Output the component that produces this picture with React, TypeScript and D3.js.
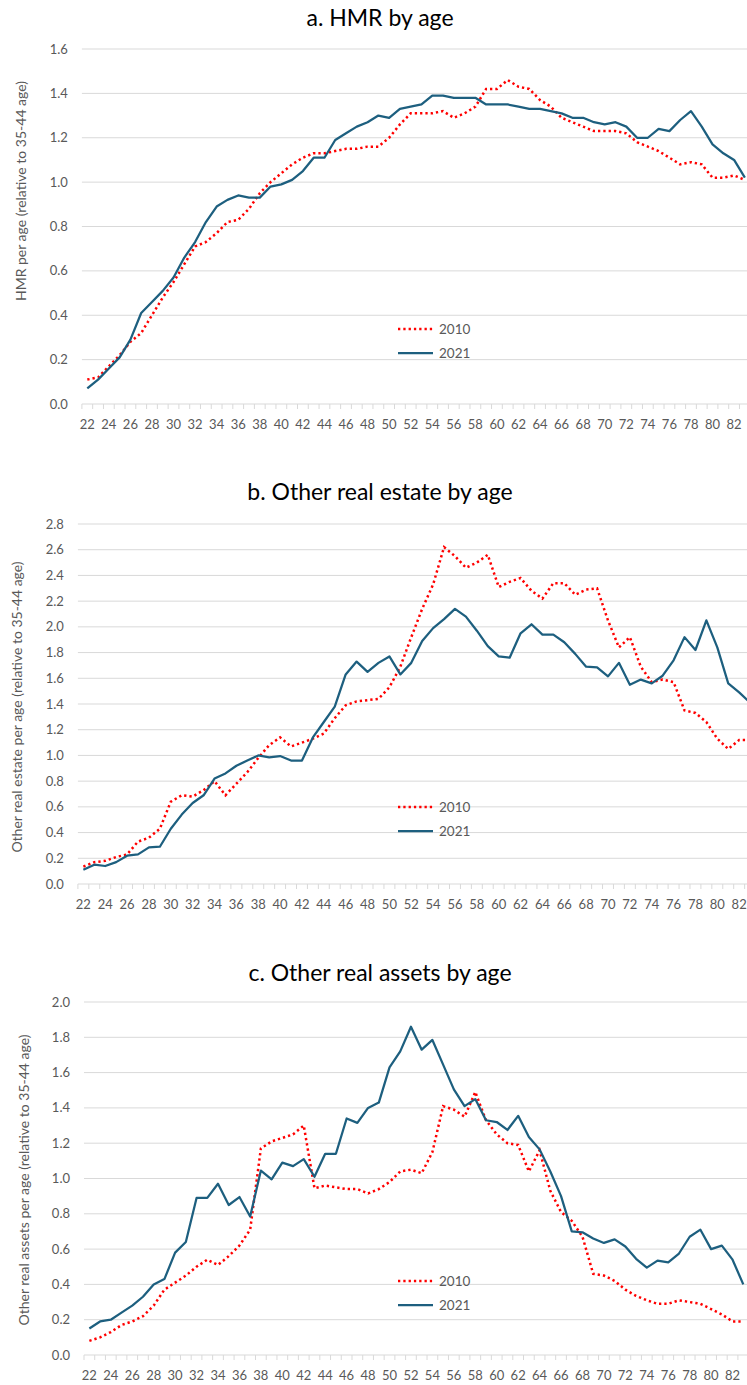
import { useEffect, useRef } from 'react'
import * as d3 from 'd3'

const ages = [
  22, 23, 24, 25, 26, 27, 28, 29, 30, 31, 32, 33, 34, 35, 36, 37, 38, 39, 40, 41, 42,
  43, 44, 45, 46, 47, 48, 49, 50, 51, 52, 53, 54, 55, 56, 57, 58, 59, 60, 61, 62, 63,
  64, 65, 66, 67, 68, 69, 70, 71, 72, 73, 74, 75, 76, 77, 78, 79, 80, 81, 82, 83,
]

const seriesNames = ['2010', '2021']

// a. HMR
const hmr2010 = [
  0.11, 0.12, 0.17, 0.22, 0.28, 0.32, 0.40, 0.48, 0.55, 0.63, 0.71, 0.73, 0.77, 0.82, 0.83, 0.88,
  0.95, 1.00, 1.04, 1.08, 1.11, 1.13, 1.13, 1.14, 1.15, 1.15,
  1.16, 1.16, 1.20, 1.26, 1.31, 1.31, 1.31, 1.32, 1.29, 1.31,
  1.34, 1.42, 1.42, 1.46, 1.43, 1.42, 1.37, 1.34, 1.29, 1.27,
  1.25, 1.23, 1.23, 1.23, 1.22, 1.18, 1.16, 1.14, 1.11, 1.08,
  1.09, 1.08, 1.02, 1.02, 1.03, 1.01,
]
const hmr2021 = [
  0.07, 0.11, 0.16, 0.21, 0.29, 0.41, 0.46, 0.51, 0.57, 0.66, 0.73, 0.82, 0.89, 0.92, 0.94, 0.93,
  0.93, 0.98, 0.99, 1.01, 1.05, 1.11, 1.11, 1.19, 1.22, 1.25,
  1.27, 1.30, 1.29, 1.33, 1.34, 1.35, 1.39, 1.39, 1.38, 1.38,
  1.38, 1.35, 1.35, 1.35, 1.34, 1.33, 1.33, 1.32, 1.31, 1.29,
  1.29, 1.27, 1.26, 1.27, 1.25, 1.20, 1.20, 1.24, 1.23, 1.28,
  1.32, 1.25, 1.17, 1.13, 1.10, 1.02,
]

// b. Other real estate
const ore2010 = [
  0.135, 0.17, 0.18, 0.21, 0.23, 0.33, 0.36, 0.43, 0.64, 0.69, 0.68, 0.73, 0.80, 0.69, 0.78, 0.87,
  0.98, 1.08, 1.14, 1.07, 1.10, 1.13, 1.17, 1.29, 1.39, 1.42,
  1.43, 1.44, 1.53, 1.69, 1.92, 2.14, 2.33, 2.62, 2.55, 2.46,
  2.50, 2.56, 2.31, 2.35, 2.38, 2.28, 2.22, 2.34, 2.34, 2.25,
  2.29, 2.30, 2.05, 1.84, 1.92, 1.69, 1.57, 1.59, 1.57, 1.35,
  1.33, 1.26, 1.13, 1.05, 1.12, 1.12,
]
const ore2021 = [
  0.11, 0.15, 0.14, 0.17, 0.22, 0.23, 0.285, 0.29, 0.43, 0.54, 0.63, 0.69, 0.82, 0.86, 0.92, 0.96,
  1.00, 0.985, 0.995, 0.96, 0.96, 1.14, 1.26, 1.38, 1.63, 1.73,
  1.65, 1.72, 1.77, 1.63, 1.72, 1.89, 1.99, 2.06, 2.14, 2.08,
  1.97, 1.85, 1.77, 1.76, 1.95, 2.02, 1.94, 1.94, 1.88, 1.79,
  1.69, 1.685, 1.615, 1.72, 1.55, 1.59, 1.56, 1.62, 1.74, 1.92,
  1.82, 2.05, 1.84, 1.56, 1.49, 1.41,
]

// c. Other real assets
const ora2010 = [
  0.08, 0.10, 0.13, 0.17, 0.19, 0.22, 0.28, 0.37, 0.41, 0.45, 0.50, 0.54, 0.51, 0.56, 0.62, 0.71,
  1.17, 1.21, 1.23, 1.25, 1.30, 0.945, 0.96, 0.95, 0.94, 0.94,
  0.915, 0.94, 0.98, 1.04, 1.05, 1.03, 1.15, 1.41, 1.39, 1.35,
  1.49, 1.33, 1.25, 1.20, 1.19, 1.04, 1.16, 0.93, 0.81, 0.76,
  0.67, 0.46, 0.45, 0.42, 0.37, 0.335, 0.31, 0.29, 0.29, 0.31,
  0.30, 0.29, 0.26, 0.23, 0.19, 0.19,
]
const ora2021 = [
  0.15, 0.19, 0.20, 0.24, 0.28, 0.33, 0.40, 0.43, 0.58, 0.64, 0.89, 0.89, 0.97, 0.85, 0.895, 0.785,
  1.045, 0.995, 1.09, 1.07, 1.11, 1.01, 1.14, 1.14, 1.34, 1.315,
  1.40, 1.43, 1.63, 1.72, 1.86, 1.73, 1.785, 1.645, 1.505, 1.41,
  1.45, 1.33, 1.32, 1.275, 1.355, 1.235, 1.165, 1.04, 0.90, 0.70,
  0.695, 0.66, 0.635, 0.655, 0.615, 0.545, 0.495, 0.535, 0.525, 0.575,
  0.67, 0.71, 0.60, 0.62, 0.54, 0.40,
]

const panels = [
  {
    title: 'a. HMR by age',
    yLabel: 'HMR per age (relative to 35-44 age)',
    s2010: hmr2010, s2021: hmr2021, yMax: 1.6,
    left: 81.9, step: 10.78, top: 49, bottom: 404,
    titleY: 25, yLabelX: 21, yLabelY: 191, legendY: 329,
  },
  {
    title: 'b. Other real estate by age',
    yLabel: 'Other real estate per age (relative to 35-44 age)',
    s2010: ore2010, s2021: ore2021, yMax: 2.8,
    left: 77.9, step: 10.93, top: 524, bottom: 884,
    titleY: 499, yLabelX: 17, yLabelY: 707, legendY: 807,
  },
  {
    title: 'c. Other real assets by age',
    yLabel: 'Other real assets per age (relative to 35-44 age)',
    s2010: ora2010, s2021: ora2021, yMax: 2.0,
    left: 84, step: 10.72, top: 1002, bottom: 1355,
    titleY: 980, yLabelX: 24, yLabelY: 1180, legendY: 1281,
  },
]

const RED = '#FF0000'
const BLUE = '#1D5F7F'
const GRID = '#D9D9D9'
const TEXT = '#595959'
const FONT = "Lato, 'Open Sans', sans-serif"

export default function App() {
  const svgRef = useRef<SVGSVGElement>(null)

  useEffect(() => {
    if (!svgRef.current) return
    const svg = d3.select(svgRef.current)
    svg.selectAll('*').remove()

    panels.forEach(p => {
      const g = svg.append('g')

      const x = d3.scaleBand<number>()
        .domain(ages)
        .range([p.left, p.left + ages.length * p.step])
        .padding(0)
      const y = d3.scaleLinear().domain([0, p.yMax]).range([p.bottom, p.top])
      const cx = (a: number) => (x(a) ?? 0) + x.bandwidth() / 2
      const right = p.left + ages.length * p.step

      // Gridlines + y labels
      const yTicks = d3.range(0, p.yMax + 1e-6, 0.2)
      yTicks.forEach(t => {
        g.append('line')
          .attr('x1', p.left).attr('x2', right)
          .attr('y1', y(t)).attr('y2', y(t))
          .attr('stroke', GRID).attr('stroke-width', 1)
        g.append('text')
          .attr('x', p.left - 14)
          .attr('y', y(t))
          .attr('dy', '0.35em')
          .attr('text-anchor', 'end')
          .attr('font-family', FONT)
          .attr('font-size', 13)
          .attr('fill', TEXT)
          .text(d3.format('.1f')(t))
      })

      // Category tick marks
      d3.range(ages.length + 1).forEach(i => {
        const tx = p.left + i * p.step
        g.append('line')
          .attr('x1', tx).attr('x2', tx)
          .attr('y1', p.bottom).attr('y2', p.bottom + 5)
          .attr('stroke', GRID).attr('stroke-width', 1)
      })

      // X labels every 2 years
      ages.filter(a => a % 2 === 0).forEach(a => {
        g.append('text')
          .attr('x', cx(a))
          .attr('y', p.bottom + 20)
          .attr('dy', '0.35em')
          .attr('text-anchor', 'middle')
          .attr('font-family', FONT)
          .attr('font-size', 13)
          .attr('fill', TEXT)
          .text(a)
      })

      // Title
      g.append('text')
        .attr('x', 380)
        .attr('y', p.titleY + 1)
        .attr('text-anchor', 'middle')
        .attr('font-family', FONT)
        .attr('font-size', 23)
        .attr('font-weight', 400)
        .attr('fill', '#000')
        .text(p.title)

      // Y axis title
      g.append('text')
        .attr('transform', `translate(${p.yLabelX},${p.yLabelY}) rotate(-90)`)
        .attr('dy', '0.35em')
        .attr('text-anchor', 'middle')
        .attr('font-family', FONT)
        .attr('font-size', 14)
        .attr('fill', TEXT)
        .text(p.yLabel)

      const line = d3.line<number>()
        .x((_, i) => cx(ages[i]))
        .y(d => y(d))

      g.append('path')
        .datum(p.s2010)
        .attr('d', line)
        .attr('fill', 'none')
        .attr('stroke', RED)
        .attr('stroke-width', 2.5)
        .attr('stroke-dasharray', '2.3 3')

      g.append('path')
        .datum(p.s2021)
        .attr('d', line)
        .attr('fill', 'none')
        .attr('stroke', BLUE)
        .attr('stroke-width', 2.25)
        .attr('stroke-linejoin', 'round')

      // Legend
      seriesNames.forEach((name, i) => {
        const ly = p.legendY + i * 24
        g.append('line')
          .attr('x1', 398).attr('x2', 433)
          .attr('y1', ly).attr('y2', ly)
          .attr('stroke', i === 0 ? RED : BLUE)
          .attr('stroke-width', i === 0 ? 2.5 : 2.25)
          .attr('stroke-dasharray', i === 0 ? '2.3 3' : null)
        g.append('text')
          .attr('x', 439)
          .attr('y', ly)
          .attr('dy', '0.35em')
          .attr('font-family', FONT)
          .attr('font-size', 13.5)
          .attr('fill', TEXT)
          .text(name)
      })
    })
  }, [])

  return (
    <svg
      ref={svgRef}
      width={747}
      height={1385}
      style={{ position: 'absolute', left: 0, top: 0, background: '#fff', overflow: 'hidden' }}
    />
  )
}
